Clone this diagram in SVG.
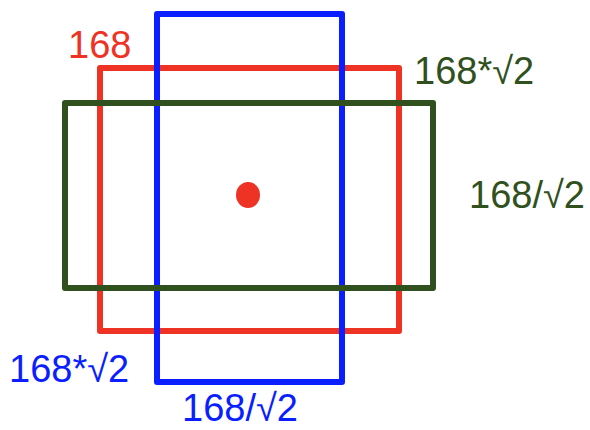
<svg xmlns="http://www.w3.org/2000/svg" width="590" height="430" viewBox="0 0 590 430">
<style>
rect{fill:none;stroke-width:6;stroke-linejoin:round}
text{font-family:"Liberation Sans",Arial,sans-serif;font-size:38px}
.r{stroke:#ee3224}.b{stroke:#0a1eff}.g{stroke:#30501e}
.tr{fill:#ee3224}.tb{fill:#0a1eff}.tg{fill:#30501e}
</style>
<rect width="590" height="430" fill="#fff" style="stroke:none"/>
<g id="red-box"><rect class="r" x="100" y="68" width="299" height="263"/></g>
<g id="blue-box"><rect class="b" x="157" y="14" width="185" height="368"/></g>
<g id="green-box"><rect class="g" x="65" y="103" width="368" height="185"/></g>
<g id="center"><ellipse cx="248" cy="195" rx="12" ry="13" fill="#ee3224"/></g>
<g id="labels">
<text class="tr" x="68" y="58">168</text>
<text class="tg" x="414" y="84">168*√2</text>
<text class="tg" x="469" y="208">168/√2</text>
<text class="tb" x="9" y="382">168*√2</text>
<text class="tb" x="182" y="421">168/√2</text>
</g>
</svg>
